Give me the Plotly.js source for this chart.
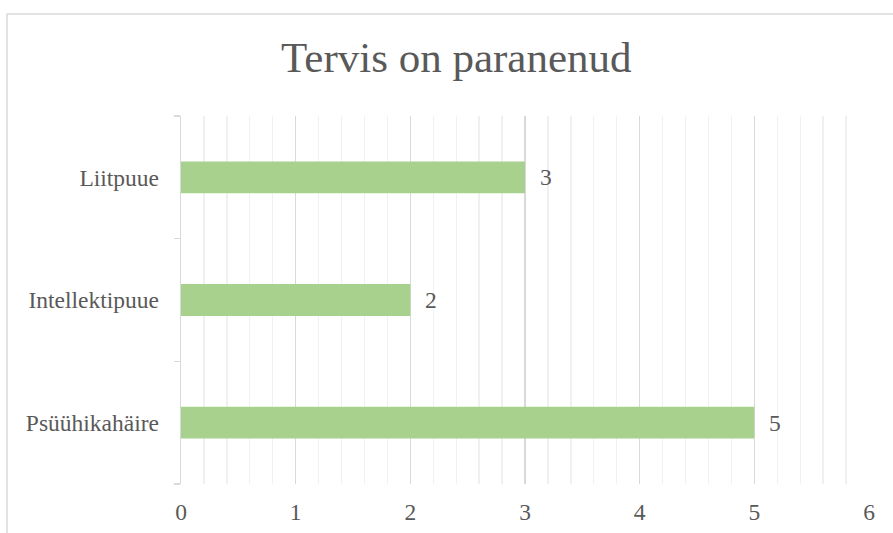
<!DOCTYPE html>
<html>
<head>
<meta charset="utf-8">
<script src="https://cdn.plot.ly/plotly-3.0.1.min.js"></script>
<style>html,body{margin:0;padding:0;background:#fff;}#chart{width:893px;height:533px;}</style>
</head>
<body>
<div id="chart"></div>
<script>
const categories = ["Psüühikahäire", "Intellektipuue", "Liitpuue"];
const values = [5, 2, 3];
const xTicks = [0, 1, 2, 3, 4, 5, 6];
const chartTitle = "Tervis on paranenud";

const textColor = "#595959";
const fontFamily = "Liberation Serif, Times New Roman, serif";

const trace = {
  type: "bar",
  orientation: "h",
  x: values,
  y: categories,
  marker: {color: "#a9d18e"},
  width: 0.26,
  hoverinfo: "none"
};

const annotations = values.map((v, i) => ({
  x: v, y: categories[i], xref: "x", yref: "y",
  text: String(v), showarrow: false, xanchor: "left", yanchor: "middle",
  xshift: 13, font: {family: fontFamily, size: 23.5, color: textColor}
}));

const layout = {
  width: 893, height: 533,
  margin: {l: 181, r: 24, t: 116, b: 49, pad: 0},
  paper_bgcolor: "#ffffff", plot_bgcolor: "#ffffff",
  font: {family: fontFamily, color: textColor},
  title: {text: chartTitle, font: {family: fontFamily, size: 43, color: textColor},
          x: 0.511, xanchor: "center", y: 0.894, yanchor: "middle"},
  showlegend: false,
  xaxis: {
    range: [0, 6], tickvals: xTicks, ticktext: xTicks.map(String),
    showgrid: true, gridcolor: "#d9d9d9", gridwidth: 1.3,
    minor: {dtick: 0.2, showgrid: true, gridcolor: "#f0f0f0", gridwidth: 1.3},
    zeroline: false, showline: false, ticks: "",
    tickfont: {family: fontFamily, size: 23.5, color: textColor},
    ticklabelstandoff: 11, fixedrange: true
  },
  yaxis: {
    type: "category", categoryorder: "array", categoryarray: categories,
    showgrid: false, zeroline: false,
    showline: true, linecolor: "#d9d9d9", linewidth: 1.3,
    ticks: "outside", tickson: "boundaries", ticklen: 6, tickcolor: "#d9d9d9", tickwidth: 1.3,
    tickfont: {family: fontFamily, size: 23.5, color: textColor},
    ticklabelstandoff: 16, fixedrange: true
  },
  annotations: annotations,
  shapes: [{
    type: "rect", xref: "paper", yref: "paper",
    x0: -0.2529, x1: 2, y0: -1, y1: 1.2772,
    line: {color: "#d9d9d9", width: 1.5}, fillcolor: "rgba(0,0,0,0)", layer: "below"
  }]
};

Plotly.newPlot("chart", [trace], layout, {staticPlot: true, displayModeBar: false});
</script>
</body>
</html>
